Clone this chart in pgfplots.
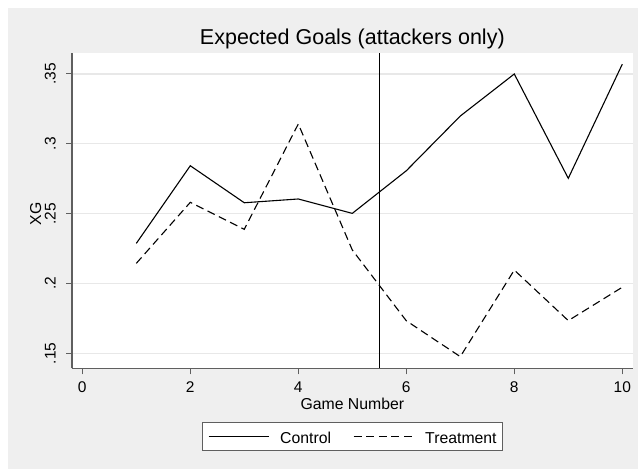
\documentclass[border=0pt]{standalone}
\usepackage{fontspec}
\setmainfont{Liberation Sans}
\usepackage{pgfplots}
\pgfplotsset{compat=1.18}

\definecolor{bggray}{RGB}{239,239,239}
\definecolor{gridgray}{RGB}{232,232,232}
\definecolor{axgray}{RGB}{95,95,95}

\newcommand{\ticksize}{\fontsize{15.5}{18}\selectfont}
\newcommand{\labsize}{\fontsize{15.8}{18}\selectfont}

\begin{document}
\begin{tikzpicture}
  % canvas: white margin on the left and top, grey graph region
  \fill[white] (0pt,0pt) rectangle (638pt,469pt);
  \fill[bggray] (8pt,0pt) rectangle (638pt,461pt);
  \useasboundingbox (0pt,0pt) rectangle (638pt,469pt);

  \begin{axis}[
    at={(72pt,100.7pt)}, anchor=south west,
    scale only axis,
    width=560.7pt, height=315pt,
    xmin=-0.1907, xmax=10.193,
    ymin=0.13926, ymax=0.36482,
    axis background/.style={fill=white},
    axis x line*=bottom, axis y line*=left,
    axis line style={axgray, line width=1.1pt, -},
    xtick={0,2,4,6,8,10},
    ytick={0.15,0.2,0.25,0.3,0.35},
    yticklabels={.15,.2,.25,.3,.35},
    tick align=outside,
    major tick length=6pt,
    tick style={axgray, line width=1pt},
    /pgf/number format/assume math mode=true,
    ticklabel style={font=\ticksize},
    xticklabel style={anchor=base, yshift=-18.5pt},
    % rotated labels: yshift moves them sideways
    yticklabel style={rotate=90, anchor=base, yshift=10.5pt},
    ymajorgrids,
    major grid style={gridgray, line width=1.3pt},
    xlabel={Game Number},
    ylabel={XG},
    xlabel style={at={(axis description cs:0.5,0)}, anchor=base, yshift=-41pt, font=\labsize},
    ylabel style={at={(axis description cs:0,0.5)}, anchor=center, yshift=36.2pt, xshift=-2.8pt, font=\labsize},
    title={Expected Goals (attackers only)},
    title style={at={(axis description cs:0.5,1)}, anchor=base, yshift=2.8pt, font=\fontsize{21.5}{24}\selectfont},
    legend columns=2,
    legend image code/.code={\draw[#1] (0pt,0pt) -- (60pt,0pt);},
    legend style={
      at={(0.5,0)}, anchor=north, yshift=-53.4pt,
      draw=axgray, line width=1pt, fill=white,
      inner xsep=6pt, inner ysep=7.8pt,
      cells={anchor=center},
      nodes={inner xsep=0pt, inner ysep=0pt, text height=13pt, text depth=0pt, font=\labsize},
      /tikz/every odd column/.append style={column sep=11pt},
      /tikz/every even column/.append style={column sep=22pt},
    },
  ]
    % game 5.5 marks the start of the intervention
    \addplot[black, line width=1.1pt, forget plot] coordinates {(5.5,0.13926) (5.5,0.36482)};

    \addplot[black, line width=1.1pt] coordinates {
      (1,0.2287) (2,0.2843) (3,0.2578) (4,0.2605) (5,0.2502)
      (6,0.2807) (7,0.3199) (8,0.3500) (9,0.2753) (10,0.3570)
    };
    \addlegendentry{Control}

    \addplot[black, line width=1.1pt, dash pattern=on 8pt off 4.6pt] coordinates {
      (1,0.2144) (2,0.2581) (3,0.2388) (4,0.3142) (5,0.2240)
      (6,0.1733) (7,0.1476) (8,0.2096) (9,0.1734) (10,0.1973)
    };
    \addlegendentry{Treatment}
  \end{axis}
\end{tikzpicture}
\end{document}
